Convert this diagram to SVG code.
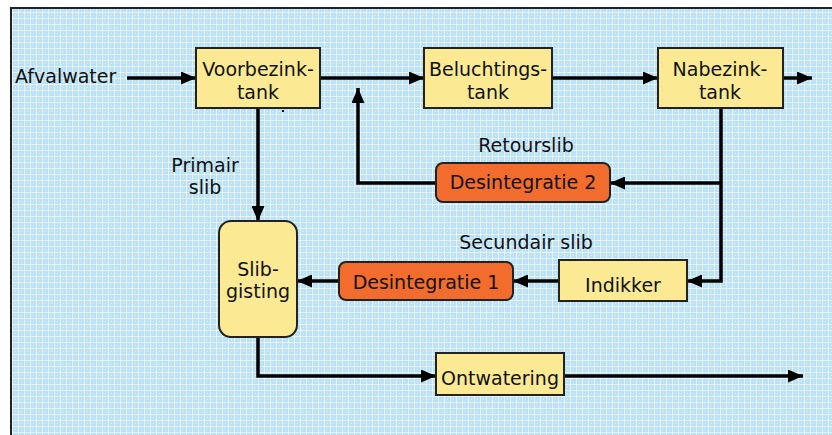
<svg xmlns="http://www.w3.org/2000/svg" width="832" height="435" viewBox="0 0 832 435">
<style>
.box{fill:#FBEA93;stroke:#222;stroke-width:2}
.org{fill:#F26D2D;stroke:#222;stroke-width:2}
.t{font-family:"DejaVu Sans","Verdana",sans-serif;font-size:19px;fill:#111}
.c{text-anchor:middle}
.ln{fill:none;stroke:#000;stroke-width:3.5}
</style>
<defs>
<pattern id="bg" width="6" height="6" patternUnits="userSpaceOnUse">
<rect width="6" height="6" fill="#BBE1F7"/>
<rect x="0" y="0" width="6" height="1" fill="#FFFFFF" opacity="0.6"/>
<rect x="0" y="0" width="1" height="6" fill="#FFFFFF" opacity="0.6"/>
<rect x="3" y="3" width="1" height="1" fill="#FFFFFF" opacity="0.5"/>
</pattern>
<marker id="ah" viewBox="0 0 15 13" refX="15" refY="6.5" markerWidth="15" markerHeight="13" markerUnits="userSpaceOnUse" orient="auto">
<path d="M0,0 L15,6.5 L0,13 z" fill="#000"/>
</marker>
</defs>
<rect width="832" height="435" fill="#FFFFFF"/>
<rect x="11" y="8" width="821" height="427" fill="url(#bg)"/>
<path d="M11,435 V8 H832" fill="none" stroke="#222" stroke-width="2"/>
<g id="connectors">
<path class="ln" d="M127,78 H196" marker-end="url(#ah)"/>
<path class="ln" d="M320,78 H424" marker-end="url(#ah)"/>
<path class="ln" d="M552,78 H658" marker-end="url(#ah)"/>
<path class="ln" d="M783,78 H812" marker-end="url(#ah)"/>
<path class="ln" d="M721,108 V281 H687" marker-end="url(#ah)"/>
<path class="ln" d="M721,183 H610" marker-end="url(#ah)"/>
<path class="ln" d="M436,183 H358 V88" marker-end="url(#ah)"/>
<path class="ln" d="M258,108 V221" marker-end="url(#ah)"/>
<path class="ln" d="M339,281 H297" marker-end="url(#ah)"/>
<path class="ln" d="M559,281 H513" marker-end="url(#ah)"/>
<path class="ln" d="M258,337 V376 H436" marker-end="url(#ah)"/>
<path class="ln" d="M564,376 H803" marker-end="url(#ah)"/>
<rect x="282" y="110" width="2" height="2" fill="#000"/>
</g>
<g id="labels">
<text class="t" x="15" y="83">Afvalwater</text>
<text class="t c" x="205" y="172">Primair</text>
<text class="t c" x="205" y="194">slib</text>
<text class="t c" x="526" y="152">Retourslib</text>
<text class="t c" x="526" y="249">Secundair slib</text>
</g>
<g id="voorbezinktank">
<rect class="box" x="196" y="48" width="124" height="60"/>
<text class="t c" x="258" y="76">Voorbezink-</text>
<text class="t c" x="258" y="99">tank</text>
</g>
<g id="beluchtingstank">
<rect class="box" x="424" y="48" width="128" height="60"/>
<text class="t c" x="488" y="76">Beluchtings-</text>
<text class="t c" x="488" y="99">tank</text>
</g>
<g id="nabezinktank">
<rect class="box" x="658" y="48" width="125" height="60"/>
<text class="t c" x="720" y="76">Nabezink-</text>
<text class="t c" x="720" y="99">tank</text>
</g>
<g id="desintegratie2">
<rect class="org" x="436" y="163" width="174" height="39" rx="7"/>
<text class="t c" x="523" y="189">Desintegratie 2</text>
</g>
<g id="slibgisting">
<rect class="box" x="219" y="221" width="78" height="116" rx="12"/>
<text class="t c" x="258" y="276">Slib-</text>
<text class="t c" x="258" y="298">gisting</text>
</g>
<g id="desintegratie1">
<rect class="org" x="339" y="262" width="174" height="38" rx="7"/>
<text class="t c" x="426" y="289">Desintegratie 1</text>
</g>
<g id="indikker">
<rect class="box" x="559" y="260" width="128" height="41"/>
<text class="t c" x="623" y="292">Indikker</text>
</g>
<g id="ontwatering">
<rect class="box" x="436" y="353" width="128" height="42"/>
<text class="t c" x="500" y="385">Ontwatering</text>
</g>
</svg>
